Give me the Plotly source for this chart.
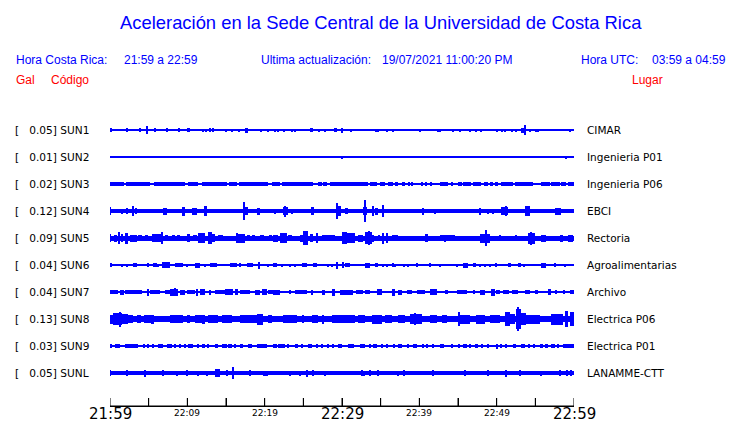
import plotly.graph_objects as go

# ---------------- data ----------------
STATIONS = ["SUN1", "SUN2", "SUN3", "SUN4", "SUN5", "SUN6", "SUN7", "SUN8", "SUN9", "SUNL"]
PEAK_GAL = ["0.05", "0.01", "0.02", "0.12", "0.09", "0.04", "0.04", "0.13", "0.03", "0.05"]
PLACES = ["CIMAR", "Ingenieria P01", "Ingenieria P06", "EBCI", "Rectoria",
          "Agroalimentarias", "Archivo", "Electrica P06", "Electrica P01", "LANAMME-CTT"]
TICK_MINUTES = [0, 5, 10, 15, 20, 25, 30, 35, 40, 45, 50, 55, 60]
TICK_LABELS = ["21:59", "", "22:09", "", "22:19", "", "22:29", "", "22:39", "", "22:49", "", "22:59"]

# background (noise) half-amplitude of each trace, relative units
NOISE_LEVEL = [1.0, 0.5, 0.7, 2.2, 2.5, 1.0, 1.0, 3.2, 0.8, 2.0]

# bursts: (start minute, end minute, half-amplitude) -- minutes after 21:59
SUN1_EVENTS = [(0.0, 0.3, 2), (2.2, 2.2, 2), (3.9, 3.9, 2), (4.8, 4.8, 4), (5.8, 5.8, 2), (7.4, 7.4, 2),
               (8.9, 8.9, 2), (10.0, 10.3, 2), (12.0, 12.0, 1.5), (12.4, 12.4, 1.5), (12.9, 12.9, 2),
               (13.4, 13.4, 2), (15.0, 15.0, 1.5), (15.8, 15.8, 1.5), (16.7, 16.7, 1.5), (17.5, 17.9, 2.5),
               (19.5, 19.5, 1.5), (20.4, 20.4, 1.5), (21.3, 21.3, 1.5), (21.7, 21.7, 1.5), (22.5, 22.5, 1.5),
               (23.5, 23.5, 1.5), (23.9, 23.9, 1.5), (25.9, 26.2, 2), (27.0, 27.0, 1.5), (27.8, 27.8, 1.5),
               (29.0, 29.3, 2), (30.0, 30.0, 2.5), (31.2, 31.2, 1.5), (34.4, 34.4, 1.5), (34.7, 34.7, 1.5),
               (35.8, 35.8, 1.5), (36.6, 36.6, 1.5), (40.1, 40.1, 1.5), (42.4, 42.4, 1.5), (42.7, 42.7, 1.5),
               (44.4, 44.4, 1.5), (45.3, 45.3, 1.5), (46.6, 46.6, 1.5), (47.3, 47.3, 1.5), (48.0, 48.0, 1.5),
               (50.0, 50.0, 1.5), (50.7, 50.7, 1.5), (51.1, 51.1, 1.5), (52.0, 52.0, 1.5), (52.5, 52.5, 1.5),
               (53.2, 53.6, 2.5), (53.7, 53.7, 5), (54.3, 54.3, 1.5), (55.1, 55.1, 1.5), (55.3, 55.3, 1.5),
               (59.5, 59.5, 1.5)]
SUN2_EVENTS = [(30.0, 30.0, 1.5), (59.0, 59.0, 1.5)]
SUN3_EVENTS = [(0.0, 1.8, 2), (2.1, 5.2, 2), (5.7, 9.7, 2), (10.1, 11.4, 2), (11.9, 15.1, 2), (15.4, 16.4, 2),
               (16.7, 20.4, 2), (20.9, 22.0, 2), (22.2, 26.2, 2), (26.9, 27.4, 2), (27.5, 28.1, 2),
               (28.4, 33.4, 2), (33.6, 34.5, 2), (34.9, 35.6, 2), (35.9, 36.6, 2), (36.9, 37.2, 2),
               (37.8, 38.1, 2), (38.5, 38.8, 2), (39.0, 39.2, 2), (40.3, 40.5, 2), (40.7, 41.0, 2),
               (41.4, 41.6, 2), (42.7, 43.7, 2), (44.2, 44.4, 2), (45.0, 45.5, 2), (45.6, 46.7, 2),
               (46.9, 48.0, 2), (48.4, 48.9, 2), (49.1, 49.5, 2), (49.8, 50.2, 2), (50.6, 52.1, 2),
               (52.4, 54.7, 2), (55.7, 56.9, 2), (57.0, 58.2, 2), (58.3, 59.0, 2), (59.2, 60.0, 2)]
SUN4_EVENTS = [(0.0, 0.0, 4), (1.6, 1.6, 2.5), (2.2, 2.2, 3), (2.8, 3.1, 5), (3.4, 3.4, 3), (6.9, 7.4, 3.5),
               (9.3, 9.7, 4.5), (10.6, 11.3, 3.5), (12.2, 12.5, 5), (17.2, 17.8, 4), (17.3, 17.3, 9),
               (19.0, 19.4, 3.5), (20.3, 20.3, 2), (21.3, 21.3, 2.5), (22.4, 23.0, 4), (22.6, 22.6, 5.5),
               (23.5, 23.5, 2.5), (24.3, 24.3, 2), (26.0, 26.4, 4), (28.6, 28.6, 2), (29.4, 29.9, 5),
               (29.4, 29.4, 8), (30.4, 30.8, 3), (32.7, 33.2, 4), (33.0, 33.0, 11), (33.9, 34.1, 5),
               (34.3, 34.7, 3.5), (35.2, 35.4, 6), (40.3, 40.6, 3.5), (42.0, 42.0, 2.5), (43.3, 43.3, 2),
               (45.0, 45.0, 2), (47.8, 47.8, 3.5), (48.9, 48.9, 2.5), (49.5, 49.5, 2.5), (50.6, 51.5, 4),
               (51.2, 51.2, 5), (53.7, 54.3, 5), (55.0, 55.0, 2), (56.3, 56.3, 2), (56.9, 56.9, 2),
               (57.5, 58.3, 3.5), (59.2, 59.2, 2)]
SUN5_EVENTS = [(0.0, 0.0, 4), (0.5, 0.9, 3.5), (1.0, 1.3, 6), (1.4, 1.7, 4), (1.9, 2.3, 5.5), (2.6, 3.5, 3.5),
               (3.6, 4.1, 2.8), (4.5, 4.9, 3), (5.4, 6.9, 4), (6.7, 6.7, 6), (7.1, 7.5, 3), (8.0, 8.4, 2.8),
               (8.7, 9.1, 3), (10.0, 10.3, 4), (10.7, 11.3, 3), (11.4, 12.3, 5), (12.7, 13.2, 6),
               (13.2, 13.6, 4), (14.0, 14.6, 3), (16.4, 16.4, 5), (16.6, 17.5, 4.5), (17.7, 18.1, 3),
               (18.4, 18.8, 3), (19.4, 19.9, 3), (20.5, 21.0, 3), (21.1, 21.7, 3.5), (22.0, 22.9, 5),
               (23.0, 23.5, 3), (24.6, 25.2, 3.5), (25.0, 25.6, 7), (25.9, 26.3, 4), (26.8, 26.8, 5),
               (27.4, 29.1, 2.8), (30.0, 30.6, 6), (30.4, 31.7, 5), (32.1, 32.7, 3.5), (33.0, 33.9, 6),
               (33.5, 33.5, 7.3), (34.0, 34.0, 3.5), (34.7, 34.9, 3), (35.3, 35.3, 5.5), (35.8, 35.8, 5),
               (36.5, 37.2, 2.8), (39.2, 39.2, 2.5), (40.7, 41.1, 4), (42.7, 44.6, 3.3), (43.3, 43.3, 3.5),
               (47.8, 49.1, 4.5), (48.6, 48.6, 8), (50.4, 50.4, 3), (51.1, 51.1, 2.5), (52.5, 52.5, 3),
               (53.4, 53.4, 2.5), (54.1, 55.0, 5.5), (54.4, 54.4, 6.5), (55.7, 56.4, 3.5), (57.3, 57.3, 2.5),
               (58.2, 58.6, 3.5), (59.2, 59.9, 3.5)]
SUN6_EVENTS = [(0.0, 0.3, 2), (1.6, 1.6, 1.5), (2.2, 2.2, 1.5), (3.0, 3.5, 2), (4.9, 4.9, 2), (5.6, 6.1, 1.8),
               (6.2, 6.2, 1.5), (6.7, 7.8, 3), (8.4, 9.4, 2), (10.0, 10.0, 1.5), (11.0, 11.6, 2.5),
               (12.3, 12.3, 1.5), (12.9, 13.8, 2), (15.5, 16.4, 2), (16.8, 16.8, 2), (17.7, 18.5, 2),
               (19.3, 19.3, 3.5), (20.4, 20.4, 1.5), (21.1, 21.6, 2), (22.2, 22.2, 1.5), (23.3, 23.3, 1.5),
               (23.9, 23.9, 1.5), (24.8, 25.5, 2), (26.3, 26.8, 2), (28.2, 28.2, 1.5), (28.7, 28.7, 1.5),
               (29.4, 29.4, 3.5), (30.1, 30.1, 3), (30.4, 31.0, 2), (33.0, 33.6, 2.5), (34.3, 34.7, 2),
               (35.3, 35.3, 1.5), (35.9, 35.9, 1.5), (36.6, 36.6, 2), (36.9, 36.9, 1.5), (38.1, 38.1, 1.5),
               (38.5, 38.5, 1.5), (39.7, 39.7, 2), (41.4, 41.4, 2), (42.7, 42.7, 1.5), (44.9, 44.9, 1.5),
               (45.6, 46.3, 2.5), (46.9, 47.3, 2), (47.8, 47.8, 1.5), (48.5, 48.5, 1.5), (49.1, 49.1, 1.5),
               (49.9, 49.9, 2), (51.5, 51.9, 2), (52.8, 53.1, 2), (53.5, 53.5, 1.5), (55.7, 56.4, 2.5),
               (57.5, 57.5, 1.8), (58.8, 58.8, 1.5)]
SUN7_EVENTS = [(0.0, 1.0, 2.3), (1.3, 1.8, 2.5), (2.0, 4.1, 1.8), (4.9, 4.9, 3.5), (5.2, 6.5, 1.8),
               (7.1, 8.0, 2.3), (7.8, 8.8, 3.5), (8.4, 8.4, 4), (9.1, 9.7, 2.5), (10.0, 11.0, 1.8),
               (11.3, 11.3, 3.5), (11.6, 12.3, 3), (12.9, 12.9, 2.5), (13.6, 15.1, 2.2), (14.9, 15.9, 3),
               (16.2, 16.6, 3), (16.8, 18.1, 1.8), (18.8, 19.4, 2.5), (19.7, 20.3, 3), (20.4, 21.3, 1.8),
               (21.1, 22.0, 2.5), (23.3, 23.3, 2), (23.9, 25.5, 2), (26.1, 26.1, 2.5), (27.4, 27.8, 2.5),
               (28.7, 29.1, 3.5), (29.7, 31.4, 2.5), (31.8, 32.7, 2.3), (33.0, 33.6, 2.3), (34.5, 35.2, 3),
               (36.5, 36.9, 3.5), (37.2, 37.8, 2.5), (38.4, 39.1, 2.3), (39.7, 40.7, 2.3), (41.4, 42.3, 3),
               (43.3, 43.7, 2.3), (44.9, 46.2, 2.3), (47.1, 47.1, 2), (47.8, 48.5, 2.5), (49.3, 49.8, 3.5),
               (49.9, 50.4, 2.3), (50.8, 51.6, 2.3), (52.0, 52.8, 2.3), (53.7, 54.3, 2.3), (55.0, 55.3, 2.3),
               (56.6, 57.0, 3), (57.7, 57.7, 2), (58.6, 58.8, 2), (59.5, 60.0, 2.3)]
SUN8_EVENTS = [(0.0, 0.4, 4.5), (0.4, 1.6, 6), (1.3, 1.3, 7.5), (1.6, 2.3, 5), (2.3, 3.0, 4), (3.5, 4.0, 4),
               (4.4, 5.3, 3.8), (5.3, 5.7, 4.5), (7.8, 9.4, 4), (10.0, 10.3, 4), (11.0, 11.9, 4),
               (11.9, 12.3, 4.5), (12.7, 14.0, 4), (14.5, 15.1, 3.8), (14.9, 15.8, 4), (16.8, 19.0, 4),
               (19.0, 19.8, 5.5), (20.4, 20.9, 4), (22.4, 24.2, 4), (25.0, 25.0, 4), (26.1, 26.9, 4),
               (27.5, 27.5, 4.5), (28.7, 30.6, 4), (30.4, 31.7, 4), (32.1, 33.0, 4), (33.9, 35.2, 4.5),
               (35.6, 36.5, 4), (37.2, 38.1, 3.8), (38.8, 40.3, 5), (39.4, 39.4, 6), (41.4, 42.3, 4),
               (42.9, 43.6, 4), (45.0, 45.3, 7), (45.3, 46.6, 4.5), (47.3, 48.5, 4.5), (49.1, 50.4, 3.6),
               (51.1, 51.7, 7), (51.7, 52.4, 5), (52.5, 53.1, 10), (52.8, 52.8, 12), (53.1, 53.8, 6),
               (53.8, 55.6, 4.5), (57.0, 58.6, 5.5), (58.8, 59.2, 8), (59.5, 60.0, 7)]
SUN9_EVENTS = [(0.2, 0.2, 1.8), (0.6, 1.3, 1.8), (1.9, 3.6, 1.8), (4.3, 4.5, 1.8), (4.9, 4.9, 1.8),
               (5.6, 5.6, 1.8), (6.2, 6.9, 1.8), (7.4, 8.0, 1.8), (8.4, 8.4, 1.8), (9.1, 9.1, 1.8),
               (9.7, 9.7, 1.8), (10.1, 10.7, 1.8), (11.4, 11.4, 1.8), (11.9, 12.3, 1.8), (12.7, 12.7, 1.8),
               (13.6, 14.0, 1.8), (14.5, 15.1, 1.8), (15.3, 15.8, 1.8), (16.2, 16.2, 1.8), (16.8, 17.2, 1.8),
               (17.8, 18.4, 1.8), (19.0, 20.3, 1.8), (21.1, 21.6, 1.8), (21.7, 22.6, 1.8), (23.0, 23.0, 1.8),
               (23.9, 24.3, 1.8), (24.8, 24.8, 1.8), (25.6, 26.1, 1.8), (26.8, 26.8, 1.8), (27.4, 27.4, 1.8),
               (28.1, 28.2, 1.8), (28.8, 28.8, 1.8), (29.5, 30.0, 1.8), (30.8, 31.3, 1.8), (31.5, 31.5, 1.8),
               (32.3, 33.0, 1.8), (33.7, 33.7, 1.8), (34.0, 34.5, 1.8), (35.2, 35.2, 1.8), (35.9, 35.9, 1.8),
               (36.7, 36.7, 1.8), (37.2, 37.8, 1.8), (38.5, 38.5, 1.8), (39.2, 39.7, 2.3), (40.5, 40.5, 1.8),
               (41.0, 41.0, 1.8), (41.8, 41.8, 1.8), (42.7, 42.9, 1.8), (43.1, 43.1, 1.8), (44.2, 44.2, 1.8),
               (45.0, 45.3, 1.8), (45.6, 46.2, 1.8), (46.6, 46.6, 1.8), (47.2, 47.6, 1.8), (48.1, 48.1, 1.8),
               (48.9, 48.9, 1.8), (49.9, 50.2, 2.5), (50.6, 50.6, 1.8), (51.2, 51.2, 1.8), (52.1, 52.5, 1.8),
               (53.2, 53.7, 1.8), (54.1, 54.3, 1.8), (54.7, 55.0, 1.8), (55.6, 56.0, 1.8), (56.3, 56.6, 1.8),
               (57.0, 57.5, 1.8), (57.9, 57.9, 1.8), (58.6, 60.0, 2)]
SUNL_EVENTS = [(0.0, 0.0, 3), (2.2, 2.2, 3), (4.4, 4.7, 3.5), (6.9, 6.9, 3), (8.7, 8.7, 2.5), (10.0, 10.0, 3),
               (11.4, 11.4, 2.5), (12.5, 12.5, 2.5), (13.6, 14.2, 4), (15.1, 15.1, 3), (15.9, 15.9, 6),
               (18.1, 18.1, 3), (19.8, 20.4, 2.5), (23.3, 23.3, 2.5), (24.6, 24.6, 2.5), (25.5, 25.5, 3.5),
               (26.3, 26.3, 3), (27.8, 27.8, 2.5), (32.6, 32.6, 3), (32.8, 32.8, 2.5), (33.6, 33.6, 3),
               (34.7, 34.7, 3), (37.2, 37.2, 2.5), (38.1, 38.1, 3), (41.8, 41.8, 3), (45.9, 45.9, 3),
               (48.9, 48.9, 3), (51.2, 51.2, 3.5), (53.1, 53.1, 3), (55.7, 55.7, 2.5), (58.2, 58.2, 3),
               (59.1, 59.1, 3), (59.6, 59.6, 3)]

EVENTS = [SUN1_EVENTS, SUN2_EVENTS, SUN3_EVENTS, SUN4_EVENTS, SUN5_EVENTS,
          SUN6_EVENTS, SUN7_EVENTS, SUN8_EVENTS, SUN9_EVENTS, SUNL_EVENTS]

# ---------------- layout constants ----------------
W, H = 740, 423
PL, PR, PT, PB = 110, 574, 100, 406
TRACE_SPACING = 27
Y_TOP = 30
BLUE = "#0000ff"
MIN_W = 0.17

def px(x):
    return (x - PL) / (PR - PL)

def py(y):
    return (PB - y) / (PB - PT)

fig = go.Figure()
for i, (name, ev) in enumerate(zip(STATIONS, EVENTS)):
    c = -TRACE_SPACING * i
    b = NOISE_LEVEL[i]
    xs, ws, bs, hs = [30], [60], [c - b], [2 * b]
    for t0, t1, a in ev:
        w = max(t1 - t0, MIN_W)
        xs.append((t0 + t1) / 2)
        ws.append(w)
        bs.append(c - a)
        hs.append(2 * a)
    fig.add_trace(go.Bar(x=xs, y=hs, base=bs, width=ws, name=name,
                         marker=dict(color=BLUE, line=dict(width=0)), opacity=1,
                         showlegend=False, hoverinfo="skip"))

ann = []
# title and header
ann.append(dict(text="Aceleración en la Sede Central de la Universidad de Costa Rica", x=px(381), y=py(22),
                xanchor="center", yanchor="middle", font=dict(size=18.4, color=BLUE, family="Liberation Sans")))
hdr = [("Hora Costa Rica:", 14), ("21:59 a 22:59", 122), ("Ultima actualización:", 259),
       ("19/07/2021 11:00:20 PM", 380), ("Hora UTC:", 579), ("03:59 a 04:59", 650)]
for t, x in hdr:
    ann.append(dict(text=t, x=px(x), y=py(60), xanchor="left", yanchor="middle",
                    font=dict(size=12, color=BLUE, family="Liberation Sans")))
for t, x in [("Gal", 14), ("Código", 49), ("Lugar", 630)]:
    ann.append(dict(text=t, x=px(x), y=py(80), xanchor="left", yanchor="middle",
                    font=dict(size=12, color="#ff0000", family="Liberation Sans")))
# trace labels
for i in range(len(STATIONS)):
    yc = 130 + TRACE_SPACING * i
    ann.append(dict(text="[\u00a0\u00a0\u00a0" + PEAK_GAL[i] + "]\u00a0" + STATIONS[i], x=px(13), y=py(yc),
                    xanchor="left", yanchor="middle", font=dict(size=10.6, color="black", family="DejaVu Sans")))
    ann.append(dict(text=PLACES[i], x=px(585), y=py(yc), xanchor="left", yanchor="middle",
                    font=dict(size=10.5, color="black", family="DejaVu Sans")))
# time labels
for m, lab in zip(TICK_MINUTES, TICK_LABELS):
    if not lab:
        continue
    big = (m % 30 == 0)
    ann.append(dict(text=lab, x=m, xref="x", y=py(414 if big else 413), xanchor="center", yanchor="middle",
                    font=dict(size=15 if big else 9, color="black", family="DejaVu Sans")))

for a in ann:
    a.setdefault("xref", "paper")
    a["yref"] = "paper"
    a["showarrow"] = False

# time axis baseline and end ticks drawn on the x scale
shapes = [dict(type="line", xref="x", yref="paper", x0=TICK_MINUTES[0], x1=TICK_MINUTES[-1], y0=0, y1=0,
               line=dict(color="black", width=1), layer="above")]
for m in TICK_MINUTES:
    shapes.append(dict(type="line", xref="x", yref="paper", x0=m, x1=m, y0=0, y1=8 / (PB - PT),
                       line=dict(color="black", width=1), layer="above"))

fig.update_layout(
    width=W, height=H, margin=dict(l=PL, r=W - PR, t=PT, b=H - PB),
    paper_bgcolor="white", plot_bgcolor="white", barmode="overlay", bargap=0,
    annotations=ann, shapes=shapes,
    xaxis=dict(range=[0, 60], showgrid=False, zeroline=False, showline=True, linecolor="black", linewidth=1,
               ticks="inside", ticklen=8, tickcolor="black", tickwidth=1, tickvals=TICK_MINUTES,
               showticklabels=False, fixedrange=True),
    yaxis=dict(range=[Y_TOP - (PB - PT), Y_TOP], visible=False, fixedrange=True),
)
fig.write_html("out.html", config={"displayModeBar": False},
               post_script="document.body.style.margin='0';document.body.style.overflow='hidden';")
